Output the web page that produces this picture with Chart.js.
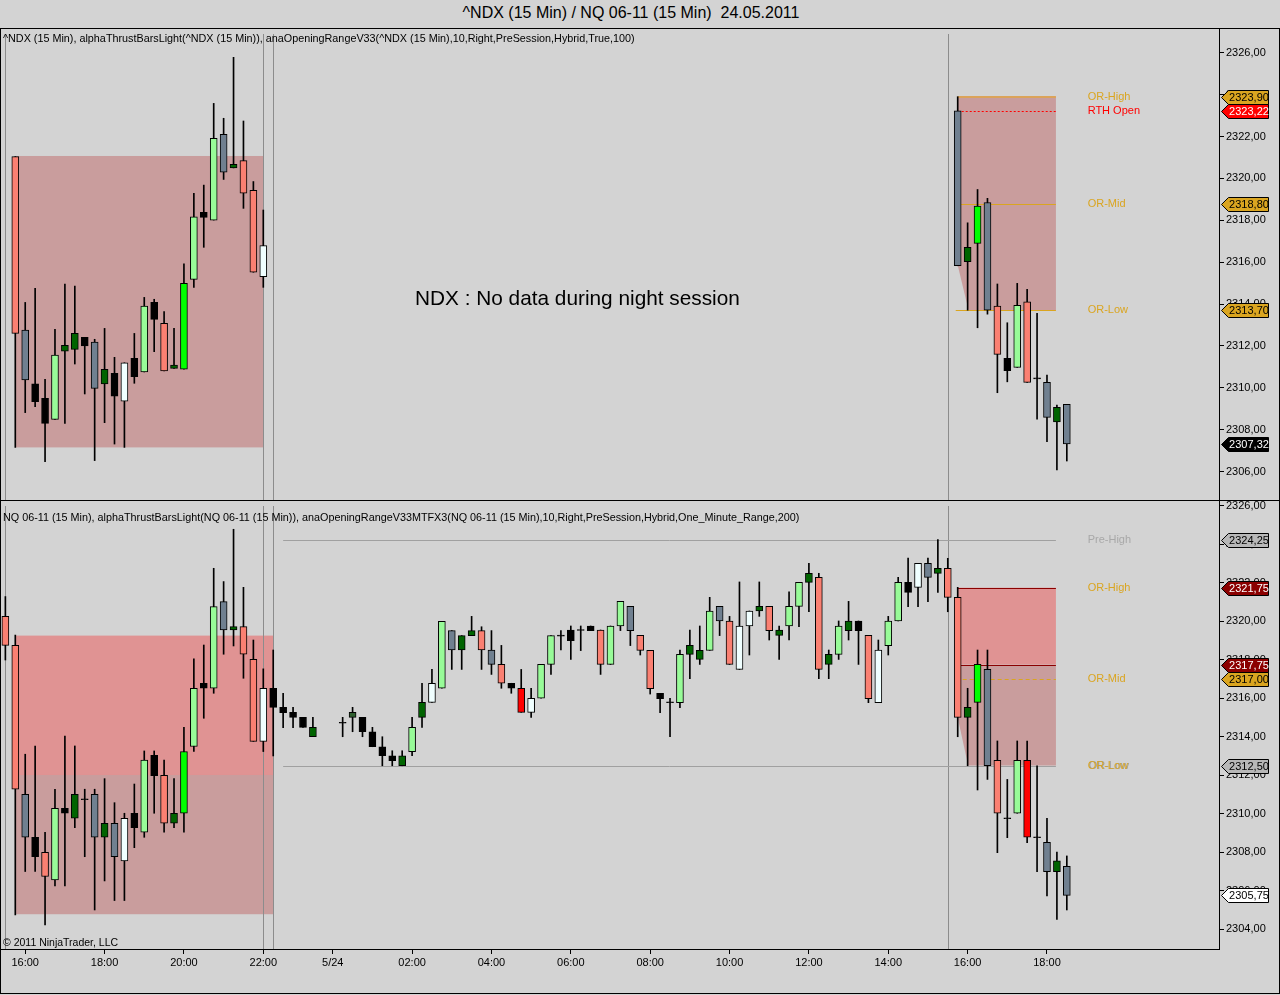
<!DOCTYPE html>
<html>
<head>
<meta charset="utf-8">
<script src="https://cdn.jsdelivr.net/npm/chart.js@4.4.0/dist/chart.umd.min.js"></script>
<style>
  html, body { margin: 0; padding: 0; background: #d3d3d3; }
  body { width: 1280px; height: 995px; position: relative; overflow: hidden; font-family: "Liberation Sans", Arial, sans-serif; color: #000; }
  canvas { position: absolute; left: 0; }
  #title { position: absolute; top: 3px; left: 0; width: 1262px; text-align: center; font-size: 16px; line-height: 19px; }
  .frame { position: absolute; left: 0; top: 28px; width: 1280px; height: 966px; border: 1px solid #000; box-sizing: border-box; }
  .sep { position: absolute; left: 0; top: 500px; width: 1280px; height: 1px; background: #000; }
  .lbl { position: absolute; left: 3px; font-size: 10.8px; line-height: 13px; white-space: nowrap; z-index: 2; }
  #note { position: absolute; left: 415px; top: 285px; font-size: 20.8px; line-height: 25px; z-index: 2; }
  #copy { position: absolute; left: 3px; top: 936px; font-size: 10.5px; line-height: 12px; z-index: 2; }
</style>
</head>
<body>
<div id="title">^NDX (15 Min) / NQ 06-11 (15 Min)&nbsp; 24.05.2011</div>
<div class="frame"></div>
<canvas id="ndx" width="1280" height="472" style="top:28px"></canvas>
<canvas id="nq" width="1280" height="494" style="top:500px"></canvas>
<div class="sep"></div>
<div class="lbl" style="top:32px">^NDX (15 Min), alphaThrustBarsLight(^NDX (15 Min)), anaOpeningRangeV33(^NDX (15 Min),10,Right,PreSession,Hybrid,True,100)</div>
<div class="lbl" style="top:511px">NQ 06-11 (15 Min), alphaThrustBarsLight(NQ 06-11 (15 Min)), anaOpeningRangeV33MTFX3(NQ 06-11 (15 Min),10,Right,PreSession,Hybrid,One_Minute_Range,200)</div>
<div id="note">NDX : No data during night session</div>
<div id="copy">© 2011 NinjaTrader, LLC</div>
<script>
// bar slots (15 min each), 0 = 15:45 on 5/23
const tickIdx = [1, 9, 17, 25, 32, 40, 48, 56, 64, 72, 80, 88, 96, 104];
const tickLbl = ["16:00", "18:00", "20:00", "22:00", "5/24", "02:00", "04:00", "06:00", "08:00", "10:00", "12:00", "14:00", "16:00", "18:00"];
const sessionBreaks = [-1, 25, 26, 94];

// ^NDX candles
const ndxIdx = [0,1,2,3,4,5,6,7,8,9,10,11,12,13,14,15,16,17,18,19,20,21,22,23,24,25,
  95,96,97,98,99,100,101,102,103,104,105,106];
const ndxOpen = [2321.04,2312.76,2310.19,2309.50,2308.50,2311.75,2311.84,2312.41,2312.19,2310.19,2310.70,2309.37,2310.54,2310.76,2314.08,2313.08,2310.93,2310.89,2315.18,2318.14,2318.01,2322.10,2320.50,2320.85,2319.43,2315.31,
  2323.22,2316.02,2316.90,2318.85,2313.91,2311.41,2310.98,2314.11,2310.45,2310.26,2308.38,2309.21];
const ndxHigh = [2321.04,2314.08,2314.75,2310.41,2312.80,2314.96,2314.86,2312.41,2312.32,2312.84,2311.46,2311.20,2312.60,2314.32,2314.23,2313.64,2312.84,2315.92,2319.29,2319.68,2323.58,2322.87,2325.78,2322.74,2319.85,2318.49,
  2323.90,2317.88,2319.47,2319.05,2314.96,2313.11,2314.99,2314.70,2313.56,2310.61,2309.18,2309.21];
const ndxLow = [2307.16,2308.82,2309.10,2306.48,2308.50,2308.31,2311.14,2309.71,2306.53,2308.34,2307.32,2307.16,2310.22,2310.76,2311.73,2310.81,2310.93,2310.89,2314.80,2316.71,2318.01,2319.95,2320.50,2318.57,2315.52,2314.80,
  2315.83,2313.71,2312.87,2313.52,2309.77,2310.29,2310.98,2310.26,2308.51,2307.43,2306.08,2306.51];
const ndxClose = [2312.60,2310.38,2309.34,2308.31,2311.57,2312.03,2312.60,2312.00,2309.98,2310.89,2309.61,2311.20,2311.41,2313.91,2313.27,2310.81,2311.09,2314.99,2318.17,2318.38,2321.91,2320.30,2320.67,2319.29,2315.52,2316.79,
  2315.83,2316.71,2318.68,2313.71,2311.60,2310.82,2313.94,2310.26,2310.45,2308.59,2309.07,2307.32];
const ndxTone = ["s","a","k","k","g","d","d","k","a","d","k","w","k","g","k","s","d","G","g","k","g","a","d","s","s","w",
  "a","d","G","a","s","k","g","s","k","a","d","a"];

// NQ 06-11 candles
const nqIdx = [-1,0,1,2,3,4,5,6,7,8,9,10,11,12,13,14,15,16,17,18,19,20,21,22,23,24,25,26,27,28,29,30,
  33,34,35,36,37,38,39,40,41,42,43,44,45,46,47,48,49,50,51,52,53,54,55,56,57,58,59,60,61,62,63,64,65,66,67,68,69,70,
  71,72,73,74,75,76,77,78,79,80,81,82,83,84,85,86,87,88,89,90,91,92,93,94,95,96,97,98,99,100,101,102,103,104,105,106];
const nqOpen = [2320.26,2318.75,2311.01,2308.77,2307.99,2306.55,2310.28,2309.76,2310.75,2311.01,2308.77,2309.50,2307.54,2309.27,2309.03,2313.03,2311.99,2309.50,2310.02,2313.49,2316.52,2316.52,2321.03,2319.55,2319.73,2318.03,2313.76,2316.52,2315.53,2315.27,2315.01,2314.00,
  2314.73,2315.01,2315.01,2314.26,2313.48,2313.01,2312.49,2313.22,2315.01,2315.79,2316.52,2319.52,2318.51,2319.26,2319.52,2318.51,2317.76,2316.78,2316.52,2315.27,2316.00,2317.76,2319.26,2319.55,2319.55,2319.76,2319.55,2317.76,2319.76,2320.78,2319.27,2318.49,2316.26,2315.79,2315.77,2318.28,2318.02,2318.49,
  2320.78,2320.02,2317.50,2319.76,2320.54,2320.78,2319.27,2319.76,2320.78,2322.03,2322.29,2317.76,2318.28,2319.52,2320.02,2319.27,2315.77,2318.74,2320.02,2322.03,2321.77,2323.02,2322.50,2322.76,2321.25,2315.01,2315.79,2317.50,2312.77,2309.76,2310.02,2312.77,2308.77,2308.51,2306.98,2307.26];
const nqHigh = [2321.29,2319.29,2313.09,2313.52,2309.03,2311.27,2314.04,2313.52,2311.27,2311.27,2311.82,2310.57,2310.02,2311.54,2313.26,2313.26,2312.78,2311.82,2314.49,2318.05,2318.77,2322.76,2322.07,2324.79,2321.77,2319.03,2317.53,2318.51,2316.26,2315.53,2315.01,2315.01,
  2315.01,2315.53,2315.01,2314.49,2314.00,2313.27,2313.27,2315.01,2316.78,2317.50,2320.00,2319.52,2319.26,2320.26,2319.72,2319.52,2318.75,2316.78,2317.50,2316.52,2317.76,2319.26,2319.52,2319.76,2319.76,2319.76,2319.55,2319.76,2321.04,2320.78,2319.27,2318.49,2316.26,2316.00,2318.51,2319.55,2319.76,2321.25,
  2320.78,2320.26,2322.05,2320.54,2322.05,2320.78,2319.76,2321.53,2322.03,2323.02,2322.50,2318.51,2320.02,2321.04,2320.02,2319.27,2319.03,2320.26,2322.29,2323.29,2323.02,2323.29,2324.25,2323.28,2321.77,2316.52,2318.51,2318.51,2313.78,2311.78,2313.78,2313.78,2312.49,2309.76,2308.00,2307.80];
const nqLow = [2317.99,2304.73,2306.99,2306.99,2304.21,2306.24,2306.24,2309.27,2307.76,2304.99,2306.50,2305.48,2305.48,2308.23,2308.77,2310.02,2309.03,2309.27,2309.03,2313.23,2314.96,2316.26,2318.29,2318.72,2317.04,2313.76,2313.23,2313.00,2314.47,2314.47,2314.49,2314.00,
  2314.00,2314.26,2314.00,2313.48,2312.49,2312.49,2312.49,2313.01,2314.49,2315.79,2316.52,2317.50,2317.50,2319.26,2317.50,2317.24,2316.52,2316.26,2315.27,2315.01,2316.00,2317.24,2318.51,2318.02,2318.48,2319.52,2317.24,2317.76,2319.52,2318.74,2318.25,2316.22,2315.25,2314.00,2315.51,2317.02,2317.76,2318.49,
  2319.26,2317.76,2317.50,2318.25,2320.26,2319.03,2318.02,2319.03,2319.72,2320.50,2317.02,2317.02,2318.02,2319.03,2317.76,2315.77,2315.77,2318.25,2320.02,2320.76,2320.76,2321.02,2321.51,2320.50,2314.00,2312.49,2311.23,2311.78,2307.97,2308.75,2310.02,2308.49,2306.98,2305.72,2304.50,2304.99];
const nqClose = [2318.75,2311.27,2308.77,2307.76,2306.73,2310.28,2310.02,2311.01,2310.75,2308.77,2309.50,2307.76,2309.76,2310.02,2312.78,2311.98,2309.50,2310.02,2313.23,2316.52,2316.78,2320.77,2319.55,2319.73,2318.29,2313.76,2316.52,2315.53,2315.25,2315.01,2314.49,2314.49,
  2314.73,2315.27,2314.26,2313.48,2313.01,2312.75,2313.01,2314.49,2315.79,2316.78,2320.00,2318.51,2319.26,2319.52,2318.51,2317.76,2316.78,2316.52,2315.27,2316.00,2317.76,2319.26,2319.26,2319.00,2319.55,2319.52,2317.76,2319.76,2321.04,2319.52,2318.49,2316.50,2315.98,2315.79,2318.28,2318.75,2318.49,2320.54,
  2320.02,2317.76,2319.76,2320.54,2320.78,2319.52,2319.55,2320.78,2322.03,2322.50,2317.50,2318.28,2319.76,2320.02,2319.52,2315.98,2318.51,2320.02,2322.03,2321.51,2323.02,2322.29,2322.76,2321.25,2315.01,2315.53,2317.76,2312.49,2310.02,2309.76,2312.77,2308.77,2308.77,2306.98,2307.54,2305.75];
const nqTone = ["s","s","a","k","s","g","k","d","k","a","d","a","w","k","g","k","s","d","G","g","k","g","a","d","s","s","w","k","k","k","k","d",
  "k","n","k","k","k","k","d","g","d","w","g","a","d","d","s","a","s","k","r","w","g","g","k","k","k","k","s","g","g","a","s","s","k","k","g","d","d","g",
  "a","s","w","w","d","s","d","g","g","d","s","d","g","d","k","s","w","g","g","k","w","a","d","s","s","d","G","a","s","k","g","r","k","a","d","a"];

// opening range / session levels
const ndxLevels = [2323.90, 2323.22, 2318.80, 2313.70];
const ndxLevelNames = ["OR-High", "RTH Open", "OR-Mid", "OR-Low"];
const ndxLast = 2307.32;
const nqLevels = [2324.25, 2321.75, 2317.75, 2317.00, 2312.50];
const nqLevelNames = ["Pre-High", "OR-High", "", "OR-Mid", "OR-Low"];
const nqLast = 2305.75;
// previous day zones [from, to, high, low]
const ndxPrevZone = [0, 25, 2321.07, 2307.16];
const nqPrevZoneHi = [0, 26, 2319.26, 2312.01];
const nqPrevZoneLo = [0, 26, 2312.01, 2304.77];

const colorOf = { s: "#fa8072", g: "#98fb98", G: "#00ff00", a: "#708090", k: "#000000", d: "#006400", w: "#f0ffff", r: "#ff0000", n: "#2f5f2f" };
const GOLD = "#daa520";
const FONT = '11px "Liberation Sans", Arial, sans-serif';
const fmt = (v) => v.toFixed(2).replace(".", ",");

function candleSets(idx, o, h, l, c, tone) {
  const bodies = idx.map((x, k) => {
    let a = Math.min(o[k], c[k]), b = Math.max(o[k], c[k]);
    if (b - a < 0.04) { a -= 0.025; b += 0.025; }
    return { x, y: [a, b] };
  });
  const wicks = idx.map((x, k) => ({ x, y: [l[k], h[k]] }));
  return [
    { type: "bar", data: bodies, backgroundColor: tone.map((t) => colorOf[t]), borderColor: "#000", borderWidth: 1,
      borderSkipped: false, barThickness: 7, grouped: false, order: 0 },
    { type: "bar", data: wicks, backgroundColor: "#000", borderWidth: 0, barThickness: 1, grouped: false, order: 1 },
  ];
}

function xScale(show) {
  return {
    type: "linear", min: -1.542, max: 121.34, offset: false, display: show,
    grid: { offset: false, drawOnChartArea: false, tickLength: 5, color: "#000" },
    border: { display: true, color: "#000" },
    ticks: { autoSkip: false, maxRotation: 0, color: "#000", font: { size: 11, family: '"Liberation Sans", Arial' }, padding: 2,
      callback: (v) => tickLbl[tickIdx.indexOf(v)] },
    afterBuildTicks: (s) => { s.ticks = tickIdx.map((v) => ({ value: v })); },
    afterFit: (s) => { s.height = show ? 45 : 0; s.paddingLeft = 0; s.paddingRight = 0; },
  };
}

function yScale(min, max) {
  return {
    type: "linear", position: "right", min, max,
    grid: { drawOnChartArea: false, tickLength: 5, color: "#000" },
    border: { display: true, color: "#000" },
    ticks: { color: "#000", font: { size: 11, family: '"Liberation Sans", Arial' }, padding: 2, callback: (v) => fmt(v) },
    afterBuildTicks: (s) => {
      const t = [];
      for (let v = Math.ceil(min / 2) * 2; v <= max; v += 2) t.push({ value: v });
      s.ticks = t;
    },
    afterFit: (s) => { s.width = 61; s.paddingTop = 0; s.paddingBottom = 0; },
  };
}

// drawing helpers, all positions through the chart scales
const px = (ch, i) => ch.scales.x.getPixelForValue(i);
const py = (ch, p) => ch.scales.y.getPixelForValue(p);

function fillRect(ch, z, color) {
  const ctx = ch.ctx;
  ctx.fillStyle = color;
  ctx.fillRect(px(ch, z[0]), py(ch, z[2]), px(ch, z[1]) - px(ch, z[0]), py(ch, z[3]) - py(ch, z[2]));
}
function fillPoly(ch, pts, color) {
  const ctx = ch.ctx;
  ctx.beginPath();
  pts.forEach((p, k) => (k ? ctx.lineTo(px(ch, p[0]), py(ch, p[1])) : ctx.moveTo(px(ch, p[0]), py(ch, p[1]))));
  ctx.closePath();
  ctx.fillStyle = color;
  ctx.fill();
}
function hline(ch, i0, i1, p, color, w, dash) {
  const ctx = ch.ctx, y = Math.round(py(ch, p)) + (w % 2 ? 0.5 : 0);
  ctx.save();
  ctx.strokeStyle = color; ctx.lineWidth = w; ctx.setLineDash(dash || []);
  ctx.beginPath(); ctx.moveTo(px(ch, i0), y); ctx.lineTo(px(ch, i1), y); ctx.stroke();
  ctx.restore();
}
function vlines(ch) {
  const ctx = ch.ctx, a = ch.chartArea;
  ctx.strokeStyle = "#8c8c8c"; ctx.lineWidth = 1;
  sessionBreaks.forEach((i) => {
    const x = Math.round(px(ch, i)) + 0.5;
    ctx.beginPath(); ctx.moveTo(x, a.top + 6); ctx.lineTo(x, a.bottom); ctx.stroke();
  });
}
function label(ch, p, text, color, dx) {
  const ctx = ch.ctx;
  ctx.font = FONT; ctx.fillStyle = color; ctx.textAlign = "left"; ctx.textBaseline = "middle";
  ctx.fillText(text, px(ch, 108.1) + (dx || 0), py(ch, p));
}
function tag(ch, p, bg, fg) {
  const ctx = ch.ctx, y = Math.round(py(ch, p)) + 0.5;
  const x0 = ch.chartArea.right + 2.5, x1 = x0 + 47, hh = 7;
  ctx.beginPath();
  ctx.moveTo(x0, y); ctx.lineTo(x0 + 7, y - hh); ctx.lineTo(x1, y - hh); ctx.lineTo(x1, y + hh); ctx.lineTo(x0 + 7, y + hh);
  ctx.closePath();
  ctx.fillStyle = bg; ctx.fill();
  ctx.strokeStyle = "#000"; ctx.lineWidth = 1; ctx.stroke();
  ctx.font = FONT; ctx.fillStyle = fg; ctx.textAlign = "center"; ctx.textBaseline = "middle";
  ctx.fillText(fmt(p), (x0 + 7 + x1) / 2 + 0.5, y + 0.5);
}

const ndxExtras = {
  id: "ndxExtras",
  beforeDatasetsDraw(ch) {
    const ctx = ch.ctx, a = ch.chartArea;
    ctx.save();
    ctx.beginPath(); ctx.rect(a.left, a.top, a.width, a.height); ctx.clip();
    fillRect(ch, ndxPrevZone, "#c99d9d");
    fillPoly(ch, [[95, ndxLevels[0]], [104.9, ndxLevels[0]], [104.9, ndxLevels[3]], [96.1, ndxLevels[3]], [95, 2315.86]], "#c99d9d");
    vlines(ch);
    hline(ch, 95, 104.9, ndxLevels[0], "#dba35a", 2);
    hline(ch, 95, 104.9, ndxLevels[1], "#ff0000", 1, [2, 2]);
    hline(ch, 94.8, 104.9, ndxLevels[2], GOLD, 1);
    hline(ch, 94.8, 104.9, ndxLevels[3], GOLD, 1);
    ctx.restore();
  },
  afterDraw(ch) {
    const ctx = ch.ctx;
    ctx.save();
    ndxLevels.forEach((p, k) => label(ch, p, ndxLevelNames[k], k === 1 ? "#ff0000" : GOLD));
    tag(ch, ndxLevels[0], GOLD, "#000");
    tag(ch, ndxLevels[1], "#ff0000", "#fff");
    tag(ch, ndxLevels[2], GOLD, "#000");
    tag(ch, ndxLevels[3], GOLD, "#000");
    tag(ch, ndxLast, "#000", "#fff");
    ctx.restore();
  },
};

const nqExtras = {
  id: "nqExtras",
  beforeDatasetsDraw(ch) {
    const ctx = ch.ctx, a = ch.chartArea;
    ctx.save();
    ctx.beginPath(); ctx.rect(a.left, a.top, a.width, a.height); ctx.clip();
    fillRect(ch, nqPrevZoneHi, "#e09393");
    fillRect(ch, nqPrevZoneLo, "#c99d9d");
    fillRect(ch, [95, 104.9, nqLevels[1], nqLevels[2]], "#e09393");
    fillPoly(ch, [[95, nqLevels[2]], [104.9, nqLevels[2]], [104.9, nqLevels[4]], [96.05, nqLevels[4]], [95, 2315.0]], "#c99d9d");
    vlines(ch);
    hline(ch, 27, 104.9, nqLevels[0], "#a0a0a0", 1);
    hline(ch, 27, 104.9, nqLevels[4], "#a0a0a0", 1);
    hline(ch, 95, 104.9, nqLevels[1], "#8b0000", 1);
    hline(ch, 95, 104.9, nqLevels[2], "#8b0000", 1);
    hline(ch, 95.5, 104.9, nqLevels[3], GOLD, 1, [4, 3]);
    ctx.restore();
  },
  afterDraw(ch) {
    const ctx = ch.ctx;
    ctx.save();
    label(ch, nqLevels[0], nqLevelNames[0], "#a8a8a8");
    label(ch, nqLevels[1], nqLevelNames[1], GOLD);
    label(ch, nqLevels[3], nqLevelNames[3], GOLD);
    label(ch, nqLevels[4], nqLevelNames[4], "#9a9a9a", 1);
    label(ch, nqLevels[4], nqLevelNames[4], GOLD);
    tag(ch, nqLevels[0], "#b8b8b8", "#000");
    tag(ch, nqLevels[1], "#8b0000", "#fff");
    tag(ch, nqLevels[2], "#8b0000", "#fff");
    tag(ch, nqLevels[3], GOLD, "#000");
    tag(ch, nqLevels[4], "#b8b8b8", "#000");
    tag(ch, nqLast, "#fff", "#000");
    ctx.restore();
  },
};

const baseOptions = {
  responsive: false,
  animation: false,
  devicePixelRatio: 1,
  layout: { padding: 0 },
  plugins: { legend: { display: false }, tooltip: { enabled: false } },
};

new Chart(document.getElementById("ndx"), {
  type: "bar",
  data: { datasets: candleSets(ndxIdx, ndxOpen, ndxHigh, ndxLow, ndxClose, ndxTone) },
  options: { ...baseOptions, scales: { x: xScale(false), y: yScale(2304.649, 2327.179) } },
  plugins: [ndxExtras],
});

new Chart(document.getElementById("nq"), {
  type: "bar",
  data: { datasets: candleSets(nqIdx, nqOpen, nqHigh, nqLow, nqClose, nqTone) },
  options: { ...baseOptions, scales: { x: xScale(true), y: yScale(2302.960, 2326.312) } },
  plugins: [nqExtras],
});
</script>
</body>
</html>
